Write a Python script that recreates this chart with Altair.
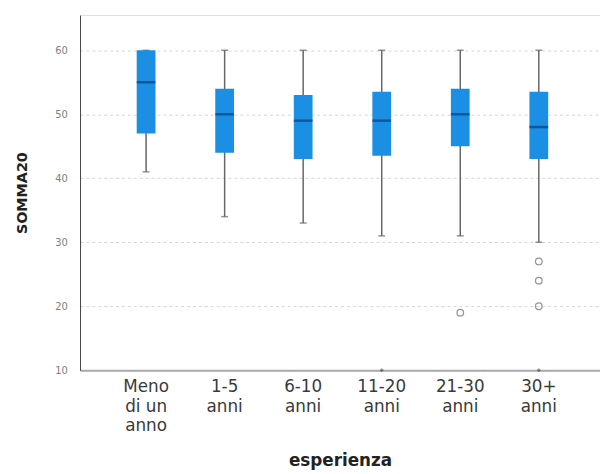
import altair as alt
import pandas as pd

categories = ["Meno di un anno", "1-5 anni", "6-10 anni", "11-20 anni", "21-30 anni", "30+ anni"]
labels = ["Meno|di un|anno", "1-5|anni", "6-10|anni", "11-20|anni", "21-30|anni", "30+|anni"]
whisker_low = [41, 34, 33, 31, 31, 30]
q1 = [47, 44, 43, 43.5, 45, 43]
median = [55, 50, 49, 49, 50, 48]
q3 = [60, 54, 53, 53.5, 54, 53.5]
whisker_high = [60, 60, 60, 60, 60, 60]

outlier_cat = ["21-30 anni", "30+ anni", "30+ anni", "30+ anni"]
outlier_val = [19, 27, 24, 20]
extreme_cat = ["11-20 anni", "30+ anni"]
extreme_val = [10, 10]

label_map = dict(zip(categories, labels))

df = pd.DataFrame({
    "cat": categories,
    "lo": whisker_low,
    "q1": q1,
    "med": median,
    "q3": q3,
    "hi": whisker_high,
})
df_out = pd.DataFrame({"cat": outlier_cat, "v": outlier_val})
df_ext = pd.DataFrame({"cat": extreme_cat, "v": extreme_val})

label_expr = "split({" + ",".join(f"'{c}':'{label_map[c]}'" for c in categories) + "}[datum.label], '|')"

xscale = alt.Scale(domain=categories, paddingInner=0, paddingOuter=0.31, align=0.55)
yscale = alt.Scale(domain=[10, 65.5], nice=False, zero=False)

x = alt.X("cat:N", scale=xscale, sort=categories,
          axis=alt.Axis(title="esperienza", labelAngle=0, labelExpr=label_expr,
                        labelFontSize=17, labelColor="#3a3a3a", labelPadding=9,
                        labelLineHeight=19.5, labelFont="DejaVu Sans",
                        ticks=False, domainColor="#aaaaaa", domainWidth=2,
                        titleFont="DejaVu Sans", titleFontSize=17, titleFontWeight="bold",
                        titleColor="#222222", titlePadding=20, grid=False))
y_axis = alt.Axis(title="SOMMA20", values=[10, 20, 30, 40, 50, 60], ticks=False,
                  labelFontSize=10, labelColor="#808080", labelPadding=13,
                  labelFont="DejaVu Sans", domainColor="#444444", domainWidth=1,
                  gridColor="#d4d4d4", gridDash=[3, 3], gridWidth=1,
                  titleFont="DejaVu Sans", titleFontSize=14.5, titleFontWeight="bold",
                  titleColor="#222222", titlePadding=26)

base = alt.Chart(df).encode(x=x)

whisk = base.mark_rule(color="#666666", strokeWidth=1.5).encode(
    y=alt.Y("lo:Q", scale=yscale, axis=y_axis), y2="hi:Q")
cap_lo = base.mark_tick(color="#666666", size=7, thickness=1.5).encode(y=alt.Y("lo:Q", scale=yscale))
cap_hi = base.mark_tick(color="#666666", size=7, thickness=1.5).encode(y=alt.Y("hi:Q", scale=yscale))
box = base.mark_bar(color="#1a8fe3", size=19).encode(y=alt.Y("q1:Q", scale=yscale), y2="q3:Q")
med = base.mark_tick(color="#0d3f7a", size=19, thickness=2.5).encode(y=alt.Y("med:Q", scale=yscale))

outl = alt.Chart(df_out).mark_point(shape="circle", filled=False, color="#666666",
                                    size=45, strokeWidth=1.2).encode(
    x=alt.X("cat:N", scale=xscale, sort=categories), y=alt.Y("v:Q", scale=yscale))
ext = alt.Chart(df_ext).mark_point(shape="cross", filled=True, color="#555555", size=14).encode(
    x=alt.X("cat:N", scale=xscale, sort=categories), y=alt.Y("v:Q", scale=yscale))

chart = alt.layer(whisk, cap_lo, cap_hi, box, med, outl, ext).properties(
    width=527, height=360,
    autosize=alt.AutoSizeParams(type="none"),
    padding={"left": 73, "top": 4, "right": 0, "bottom": 102},
).configure_view(stroke=None).configure(background="white")

chart.save("out.html", embed_options={"renderer": "svg", "actions": False})
